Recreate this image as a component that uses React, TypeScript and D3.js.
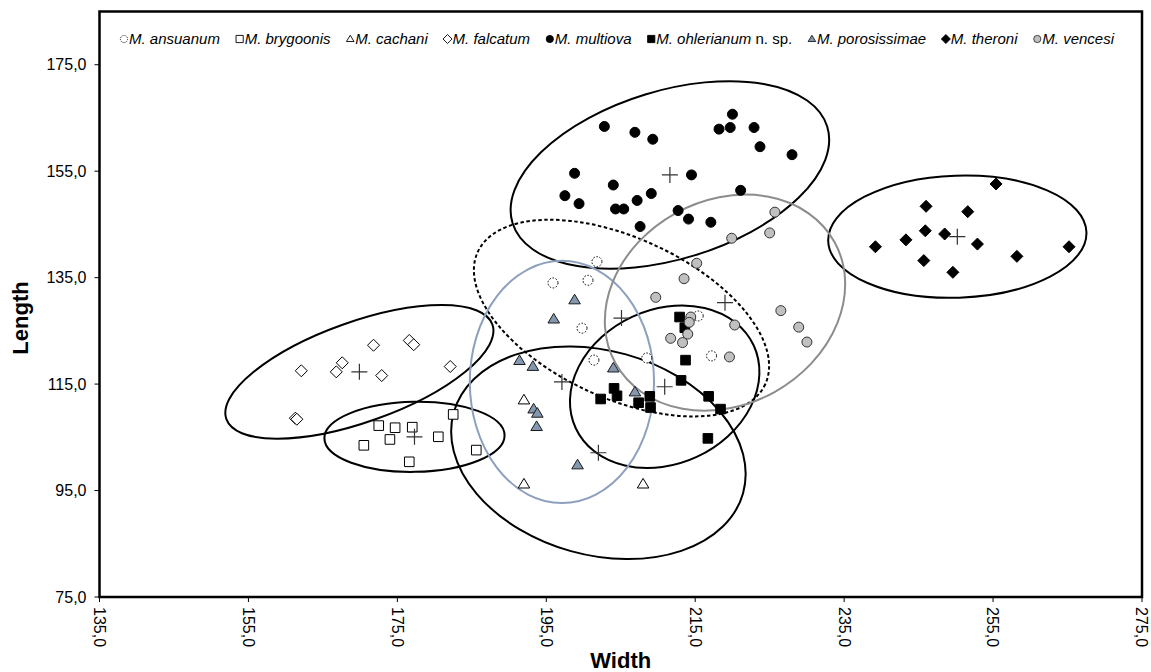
import React, { useEffect, useRef } from "react";
import * as d3 from "d3";

const W = 1151;
const H = 672;

// species in legend order
const species = [
  "ansuanum",
  "brygoonis",
  "cachani",
  "falcatum",
  "multiova",
  "ohlerianum",
  "porosissimae",
  "theroni",
  "vencesi",
];

// [width, length] of each specimen
const ansuanum = [
  [201.8, 138.0], [195.9, 134.0], [200.6, 134.5], [199.8, 125.5],
  [201.4, 119.5], [208.5, 119.9], [215.4, 127.8], [217.2, 120.3],
];
const brygoonis = [
  [172.5, 107.2], [174.7, 106.8], [177.0, 106.9], [174.0, 104.6], [170.5, 103.5],
  [180.5, 105.1], [182.5, 109.3], [185.6, 102.6], [176.6, 100.4],
];
const cachani = [
  [192.0, 112.0], [192.0, 96.2], [208.0, 96.2],
];
const falcatum = [
  [162.1, 117.5], [166.8, 117.3], [167.6, 119.0], [171.8, 122.3], [176.6, 123.2],
  [177.2, 122.4], [172.9, 116.6], [182.1, 118.3], [161.3, 108.6], [161.5, 108.4],
];
const multiova = [
  [202.8, 163.4], [206.9, 162.3], [209.3, 161.0], [218.2, 162.9], [219.7, 163.2],
  [220.0, 165.7], [222.9, 163.2], [223.7, 159.6], [228.0, 158.1], [198.8, 154.6],
  [204.0, 152.4], [197.5, 150.4], [199.4, 148.9], [204.3, 147.9], [205.4, 147.9],
  [207.2, 149.5], [209.1, 150.8], [214.5, 154.3], [207.6, 144.6], [212.7, 147.6],
  [214.1, 146.0], [217.1, 145.4], [221.1, 151.4],
];
const ohlerianum = [
  [212.9, 127.6], [213.6, 125.6], [213.7, 119.5], [213.1, 115.7], [216.8, 112.7],
  [218.4, 110.3], [216.7, 104.8], [204.1, 114.2], [204.5, 112.8], [202.3, 112.2],
  [207.4, 111.5], [208.9, 112.7], [209.0, 110.6],
];
const porosissimae = [
  [198.8, 130.8], [196.0, 127.2], [191.4, 119.4], [193.2, 118.3], [204.0, 118.0],
  [193.3, 110.3], [193.8, 109.5], [193.7, 107.0], [206.9, 113.5], [199.2, 99.8],
];
const theroni = [
  [255.4, 152.6], [246.0, 148.4], [251.6, 147.4], [245.9, 143.8], [248.5, 143.2],
  [243.3, 142.1], [252.9, 141.3], [239.2, 140.8], [265.2, 140.8], [258.2, 139.0],
  [245.7, 138.2], [249.6, 136.0],
];
const vencesi = [
  [225.7, 147.3], [225.0, 143.4], [219.9, 142.4], [215.2, 137.7], [213.5, 134.8],
  [209.7, 131.3], [226.5, 128.8], [228.9, 125.7], [230.0, 122.9], [220.3, 126.1],
  [214.4, 127.6], [214.2, 126.6], [214.0, 124.4], [211.7, 123.6], [213.3, 122.8],
  [219.6, 120.1],
];

// group means (crosses) and ellipse parameters, same order as species
const centres = [
  [205.1, 127.4], [177.3, 105.1], [202.0, 102.1], [169.9, 117.3], [211.6, 154.3],
  [210.9, 114.5], [197.1, 115.4], [250.2, 142.7], [219.0, 130.3],
];
// semi axes in width units, angle in degrees
const ellipseRx = [21.25, 12.1, 20.17, 18.96, 22.1, 13.18, 12.37, 17.35, 16.81];
const ellipseRy = [10.76, 4.71, 13.72, 6.72, 11.3, 10.36, 16.27, 8.2, 13.72];
const ellipseAngle = [24.7, -1, 15.6, -19.6, -17, -25, 0, -2, -29];

const xTicks = [135, 155, 175, 195, 215, 235, 255, 275];
const yTicks = [75, 95, 115, 135, 155, 175];

const points = [ansuanum, brygoonis, cachani, falcatum, multiova, ohlerianum, porosissimae, theroni, vencesi];

const styles = {
  ansuanum: { shape: "circle", fill: "#fff", stroke: "#000", dash: "1.6,1.6", ell: "#000", ellDash: "3.5,2.5" },
  brygoonis: { shape: "square", fill: "#fff", stroke: "#000", ell: "#000" },
  cachani: { shape: "triangle", fill: "#fff", stroke: "#000", ell: "#000" },
  falcatum: { shape: "diamond", fill: "#fff", stroke: "#000", ell: "#000" },
  multiova: { shape: "circle", fill: "#000", stroke: "#000", ell: "#000" },
  ohlerianum: { shape: "square", fill: "#000", stroke: "#000", ell: "#000" },
  porosissimae: { shape: "triangle", fill: "#8497B0", stroke: "#1a1a1a", ell: "#8DA0BD" },
  theroni: { shape: "diamond", fill: "#000", stroke: "#000", ell: "#000" },
  vencesi: { shape: "circle", fill: "#C0C0C0", stroke: "#333", ell: "#8C8C8C" },
};

const fmt = (v) => v.toFixed(1).replace(".", ",");

function shapePath(shape, s) {
  if (shape === "circle") return d3.symbol(d3.symbolCircle, Math.PI * s * s)();
  if (shape === "square") return `M${-s},${-s}H${s}V${s}H${-s}Z`;
  if (shape === "diamond") { const d = s * 1.25; return `M0,${-d}L${d},0L0,${d}L${-d},0Z`; }
  const h = s * 1.75;
  return `M0,${-h * 0.6}L${s * 1.05},${h * 0.4}L${-s * 1.05},${h * 0.4}Z`;
}

export default function App() {
  const ref = useRef(null);

  useEffect(() => {
    const svg = d3.select(ref.current);
    svg.selectAll("*").remove();

    const x = d3.scaleLinear().domain([135, 275]).range([99.5, 1142]);
    const y = d3.scaleLinear().domain([75, 185]).range([597, 11.5]);
    const unit = x(1) - x(0);
    const font = "'Liberation Sans', Arial, sans-serif";

    svg.append("rect").attr("width", W).attr("height", H).attr("fill", "#fff");

    // ellipses
    const eg = svg.append("g").attr("fill", "none").attr("stroke-width", 2);
    species.forEach((sp, i) => {
      const st = styles[sp];
      eg.append("ellipse")
        .attr("transform", `translate(${x(centres[i][0])},${y(centres[i][1])}) rotate(${ellipseAngle[i]})`)
        .attr("rx", ellipseRx[i] * unit)
        .attr("ry", ellipseRy[i] * unit)
        .attr("stroke", st.ell)
        .attr("stroke-dasharray", st.ellDash || null);
    });

    // points
    species.forEach((sp, i) => {
      const st = styles[sp];
      const size = st.shape === "circle" ? 5 : st.shape === "square" ? 4.8 : st.shape === "diamond" ? 4.8 : 5.5;
      svg.append("g")
        .selectAll("path")
        .data(points[i])
        .join("path")
        .attr("transform", (d) => `translate(${x(d[0])},${y(d[1])})`)
        .attr("d", shapePath(st.shape, size))
        .attr("fill", st.fill)
        .attr("stroke", st.stroke)
        .attr("stroke-width", 1)
        .attr("stroke-dasharray", st.dash || null);
    });

    // centroid crosses
    svg.append("g")
      .selectAll("path")
      .data(centres)
      .join("path")
      .attr("transform", (d) => `translate(${x(d[0])},${y(d[1])})`)
      .attr("d", "M-8,0H8M0,-8V8")
      .attr("stroke", "#333")
      .attr("stroke-width", 1.2);

    // frame
    svg.append("rect")
      .attr("x", x(135)).attr("y", y(185))
      .attr("width", x(275) - x(135)).attr("height", y(75) - y(185))
      .attr("fill", "none").attr("stroke", "#000").attr("stroke-width", 2.5);

    // y axis
    const ya = svg.append("g").attr("font-family", font).attr("font-size", 16);
    yTicks.forEach((t) => {
      ya.append("line").attr("x1", x(135) - 5).attr("x2", x(135)).attr("y1", y(t)).attr("y2", y(t)).attr("stroke", "#000");
      ya.append("text").attr("x", x(135) - 13).attr("y", y(t)).attr("dy", "0.35em")
        .attr("text-anchor", "end").attr("fill", "#000").text(fmt(t));
    });

    // x axis
    const xa = svg.append("g").attr("font-family", font).attr("font-size", 16);
    xTicks.forEach((t) => {
      xa.append("line").attr("x1", x(t)).attr("x2", x(t)).attr("y1", y(75)).attr("y2", y(75) + 5).attr("stroke", "#000");
      xa.append("text").attr("transform", `translate(${x(t)},${y(75) + 10}) rotate(90)`)
        .attr("dy", "0.35em").attr("fill", "#000").text(fmt(t));
    });

    svg.append("text").attr("x", (x(135) + x(275)) / 2).attr("y", 668)
      .attr("text-anchor", "middle").attr("font-family", font).attr("font-weight", "bold")
      .attr("font-size", 22).text("Width");
    svg.append("text").attr("transform", `translate(28,${318}) rotate(-90)`)
      .attr("text-anchor", "middle").attr("font-family", font).attr("font-weight", "bold")
      .attr("font-size", 22).text("Length");

    // legend: lay out items evenly between the two ends
    const lg = svg.append("g").attr("font-family", font).attr("font-size", 15);
    const items = species.map((sp) => {
      const g = lg.append("g");
      const st = styles[sp];
      g.append("path").attr("d", shapePath(st.shape, 3.6)).attr("fill", st.fill)
        .attr("stroke", st.stroke).attr("stroke-width", 0.9).attr("stroke-dasharray", st.dash ? "1,1" : null);
      const tx = g.append("text").attr("x", 5).attr("dy", "0.35em").attr("fill", "#000");
      tx.append("tspan").attr("font-style", "italic").text(`M. ${sp}`);
      if (sp === "ohlerianum") tx.append("tspan").text(" n. sp.");
      return { g, w: 5 + tx.node().getComputedTextLength() };
    });
    const start = 124, end = 1114;
    const total = d3.sum(items, (d) => d.w);
    const gap = (end - start - total) / (items.length - 1);
    let cx = start;
    items.forEach((it) => {
      it.g.attr("transform", `translate(${cx},39)`);
      cx += it.w + gap;
    });
  }, []);

  return (
    <svg ref={ref} width={W} height={H} style={{ position: "absolute", left: 0, top: 0 }} />
  );
}
